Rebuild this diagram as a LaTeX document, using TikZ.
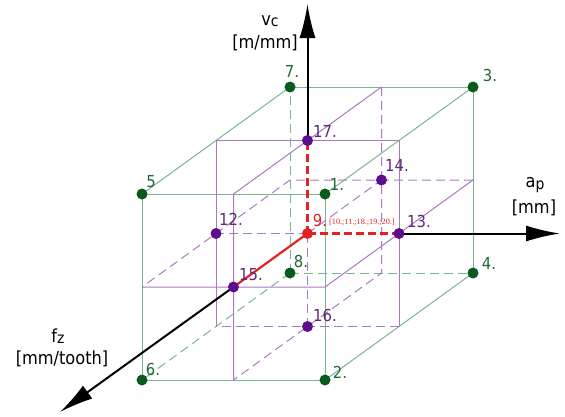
\documentclass[tikz,border=0pt]{standalone}
\usepackage{fontspec}
\setmainfont{DejaVu Sans Condensed}
\newfontfamily\smallserif{Liberation Serif}
\usetikzlibrary{arrows.meta}
\definecolor{gline}{RGB}{120,182,146}
\definecolor{pline}{RGB}{172,120,192}
\definecolor{gdot}{RGB}{10,90,30}
\definecolor{pdot}{RGB}{92,12,140}
\definecolor{gtext}{RGB}{30,105,55}
\definecolor{ptext}{RGB}{95,40,120}
\definecolor{rline}{RGB}{225,35,35}
\begin{document}
\begin{tikzpicture}[
  gedge/.style={draw=gline, line width=1pt},
  gdash/.style={gedge, dash pattern=on 9pt off 5pt},
  pedge/.style={draw=pline, line width=1pt},
  pdash/.style={pedge, dash pattern=on 9pt off 5pt},
  redge/.style={draw=rline, line width=2.2pt},
  rdash/.style={redge, dash pattern=on 8pt off 4pt},
  axisline/.style={draw=black, line width=2pt, -{Latex[length=34pt,width=16pt]}},
  gpt/.style={circle, fill=gdot, inner sep=0pt, minimum size=11pt},
  ppt/.style={circle, fill=pdot, inner sep=0pt, minimum size=11pt},
  rpt/.style={circle, fill=rline, inner sep=0pt, minimum size=11pt},
  numlab/.style={inner sep=0pt, font=\fontsize{16.5}{18}\selectfont},
  glab/.style={numlab, text=gtext},
  plab/.style={numlab, text=ptext},
  axlab/.style={inner sep=0pt, font=\fontsize{18}{20}\selectfont}
]
\useasboundingbox (0pt,0pt) rectangle (565pt,-416pt);
\begin{scope}[shift={(307.5pt,-233.5pt)}, x={(91.5pt,0pt)}, y={(0pt,93pt)}, z={(74pt,53.5pt)}]
  % cube vertices
  \coordinate (v5) at (-1,1,-1);
  \coordinate (v1) at (1,1,-1);
  \coordinate (v2) at (1,-1,-1);
  \coordinate (v6) at (-1,-1,-1);
  \coordinate (v7) at (-1,1,1);
  \coordinate (v3) at (1,1,1);
  \coordinate (v4) at (1,-1,1);
  \coordinate (v8) at (-1,-1,1);
  % mid-plane corners
  \coordinate (A) at (-1,1,0);
  \coordinate (B) at (1,1,0);
  \coordinate (C) at (1,-1,0);
  \coordinate (D) at (-1,-1,0);
  \coordinate (E) at (0,1,-1);
  \coordinate (F) at (0,1,1);
  \coordinate (G) at (0,-1,1);
  \coordinate (H) at (0,-1,-1);
  \coordinate (I) at (-1,0,-1);
  \coordinate (J) at (1,0,-1);
  \coordinate (K) at (1,0,1);
  \coordinate (L) at (-1,0,1);
  % face centres and centre
  \coordinate (c9) at (0,0,0);
  \coordinate (c12) at (-1,0,0);
  \coordinate (c13) at (1,0,0);
  \coordinate (c14) at (0,0,1);
  \coordinate (c15) at (0,0,-1);
  \coordinate (c16) at (0,-1,0);
  \coordinate (c17) at (0,1,0);
  % axis tips
  \coordinate (vtip) at (0pt,229.5pt);
  \coordinate (atip) at (252.5pt,0pt);
  \coordinate (ftip) at (-247.5pt,-178.5pt);

  % green cube
  \draw[gedge] (v5) -- (v1) -- (v2) -- (v6) -- cycle;
  \draw[gedge] (v7) -- (v3) -- (v4);
  \draw[gedge] (v5) -- (v7);
  \draw[gedge] (v1) -- (v3);
  \draw[gedge] (v2) -- (v4);
  \draw[gdash] (v8) -- (v7);
  \draw[gdash] (v8) -- (v6);
  \draw[gdash] (v8) -- (v4);

  % purple mid-planes
  \draw[pedge] (D) -- (A) -- (B) -- (C);
  \draw[pdash] (C) -- (D) -- (A);
  \draw[pedge] (H) -- (E) -- (F);
  \draw[pdash] (F) -- (G) -- (H);
  \draw[pedge] (I) -- (J) -- (K);
  \draw[pdash] (K) -- (L) -- (I);
  \draw[pdash] (c9) -- (c12);
  \draw[pdash] (c9) -- (c14);
  \draw[pdash] (c9) -- (c16);

  % red half axes
  \draw[rdash] (c9) -- (c17);
  \draw[rdash] (c9) -- (c13);
  \draw[redge] (c9) -- (c15);

  % black axes
  \draw[axisline] (c17) -- (vtip);
  \draw[axisline] (c13) -- (atip);
  \draw[axisline] (c15) -- (ftip);

  % dots
  \node[gpt] (p1) at (v1) {};
  \node[gpt] (p2) at (v2) {};
  \node[gpt] (p3) at (v3) {};
  \node[gpt] (p4) at (v4) {};
  \node[gpt] (p5) at (v5) {};
  \node[gpt] (p6) at (v6) {};
  \node[gpt] (p7) at (v7) {};
  \node[gpt] (p8) at (v8) {};
  \node[ppt] (p12) at (c12) {};
  \node[ppt] (p13) at (c13) {};
  \node[ppt] (p14) at (c14) {};
  \node[ppt] (p15) at (c15) {};
  \node[ppt] (p16) at (c16) {};
  \node[ppt] (p17) at (c17) {};
  \node[rpt] (p9) at (c9) {};
\end{scope}

% point labels
\node[glab] (l7) at ([shift={(2pt,16pt)}]p7.center) {7.};
\node[glab] (l3) at ([shift={(17pt,12pt)}]p3.center) {3.};
\node[glab] (l5) at ([shift={(9pt,12pt)}]p5.center) {5};
\node[glab] (l1) at ([shift={(12pt,10pt)}]p1.center) {1.};
\node[glab] (l8) at ([shift={(11pt,12pt)}]p8.center) {8.};
\node[glab] (l4) at ([shift={(16pt,10pt)}]p4.center) {4.};
\node[glab] (l2) at ([shift={(15pt,8pt)}]p2.center) {2.};
\node[glab] (l6) at ([shift={(11pt,11pt)}]p6.center) {6.};
\node[plab] (l17) at ([shift={(17.5pt,9.5pt)}]p17.center) {17.};
\node[plab] (l14) at ([shift={(15.5pt,15pt)}]p14.center) {14.};
\node[plab] (l13) at ([shift={(20pt,12.5pt)}]p13.center) {13.};
\node[plab] (l12) at ([shift={(15pt,14.5pt)}]p12.center) {12.};
\node[plab] (l15) at ([shift={(17.5pt,12pt)}]p15.center) {15.};
\node[plab] (l16) at ([shift={(17.5pt,11.5pt)}]p16.center) {16.};
\node[numlab, text=rline] (l9) at ([shift={(12.5pt,13.5pt)}]p9.center) {9.};
\node[inner sep=0pt, anchor=west, text=rline, font=\smallserif\fontsize{8.2}{9}\selectfont] (l9b) at ([shift={(21.5pt,11.5pt)}]p9.center) {[10.;11.;18.;19.;20.]};

% axis labels
\node[axlab] (vclab) at (270pt,-21pt) {v{\fontsize{15.5}{15.5}\selectfont\raisebox{-1.5pt}{c}}};
\node[axlab] (vcunit) at (265pt,-43pt) {[m/mm]};
\node[axlab] (aplab) at (535pt,-185pt) {a{\fontsize{15.5}{15.5}\selectfont\raisebox{-1.5pt}{p}}};
\node[axlab] (apunit) at (534pt,-208pt) {[mm]};
\node[axlab] (fzlab) at (58pt,-336pt) {f{\fontsize{15.5}{15.5}\selectfont\raisebox{-1.5pt}{z}}};
\node[axlab] (fzunit) at (62pt,-359pt) {[mm/tooth]};
\end{tikzpicture}
\end{document}
